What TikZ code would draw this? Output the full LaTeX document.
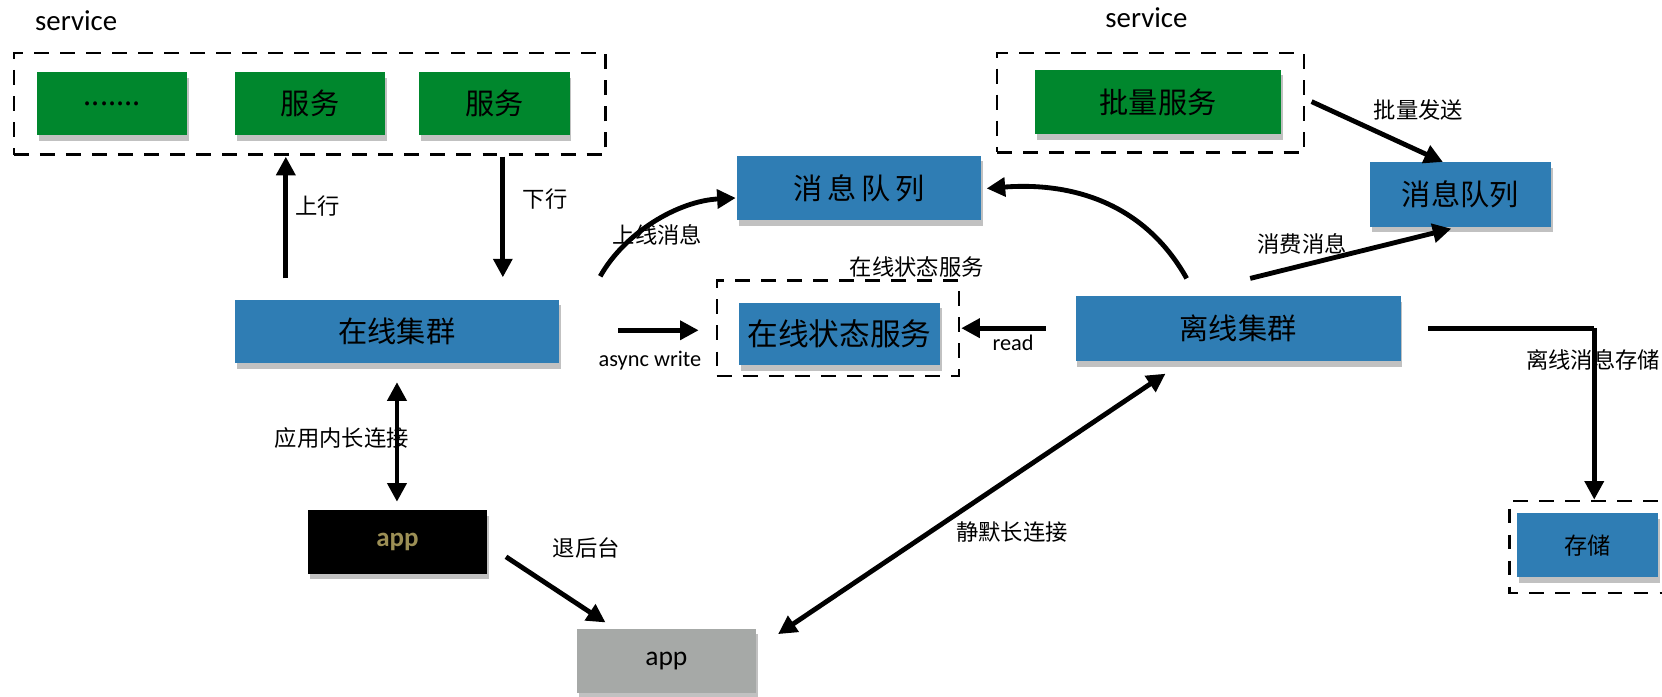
\documentclass[tikz,border=0pt]{standalone}
\usepackage{fontspec}
\setmainfont{Carlito}
\newfontfamily\cjk{Noto Sans CJK SC}
\usetikzlibrary{arrows.meta,shadows,calc}
\definecolor{boxgreen}{RGB}{0,135,45}
\definecolor{boxblue}{RGB}{47,125,180}
\definecolor{boxgray}{RGB}{166,169,167}
\definecolor{appolive}{RGB}{156,143,85}
\tikzset{
  x=0.02cm, y=-0.02cm,
  shade/.style={drop shadow={shadow xshift=1pt, shadow yshift=-3pt, opacity=0.35, fill=black!70}},
  gbox/.style={rectangle, fill=boxgreen, inner sep=0pt, shade, font=\cjk\fontsize{15.7}{18}\selectfont},
  bbox/.style={rectangle, fill=boxblue, inner sep=0pt, shade, font=\cjk\fontsize{15.7}{18}\selectfont},
  dbox/.style={rectangle, draw=black, line width=1.2pt, dash pattern=on 8pt off 6pt, inner sep=0pt},
  lbl/.style={font=\cjk\fontsize{12}{14}\selectfont, inner sep=1pt},
  elbl/.style={font=\fontsize{12}{14}\selectfont, inner sep=1pt},
  conn/.style={line width=2.6pt, -{Triangle[length=10pt,width=10pt]}},
  dconn/.style={line width=2.6pt, {Triangle[length=10pt,width=10pt]}-{Triangle[length=10pt,width=10pt]}},
}
\begin{document}
\begin{tikzpicture}
\useasboundingbox (0,0) rectangle (1570,658.4);
\clip (0,0) rectangle (1570,658.4);

% ---- top-left service group
\node[elbl, font=\fontsize{15.5}{18}\selectfont] (svclabel1) at (72,20) {service};
\node[dbox, minimum width=11.18cm, minimum height=1.92cm] (svcgroup) at (292.5,98) {};
\node[gbox, minimum width=2.84cm, minimum height=1.2cm] (dots) at (106,98) {.......};
\node[gbox, minimum width=2.84cm, minimum height=1.2cm] (svc1) at (293,98) {服务};
\node[gbox, minimum width=2.84cm, minimum height=1.2cm] (svc2) at (467,98) {服务};

% ---- online cluster
\node[bbox, minimum width=6.12cm, minimum height=1.2cm] (online) at (375,313) {在线集群};
\node[rectangle, fill=black, inner sep=0pt, shade, minimum width=3.38cm, minimum height=1.2cm,
      font=\bfseries\fontsize{14.5}{17}\selectfont, text=appolive] (appfg) at (375.5,512) {app};
\node[rectangle, fill=boxgray, inner sep=0pt, shade, minimum width=3.38cm, minimum height=1.22cm,
      font=\fontsize{14.8}{17}\selectfont] (appbg) at (629.5,624.5) {app};

% ---- middle
\node[bbox, minimum width=4.62cm, minimum height=1.22cm] (mqmid) at (811.5,177.5) {消\,息\,队\,列};
\node[dbox, minimum width=4.58cm, minimum height=1.8cm] (statusgroup) at (791.5,310) {};
\node[lbl] (statuslabel) at (866,252) {在线状态服务};
\node[bbox, minimum width=3.8cm, minimum height=1.18cm, font=\cjk\fontsize{16.5}{19}\selectfont] (status) at (793,315.5) {在线状态服务};

% ---- right
\node[elbl, font=\fontsize{15.5}{18}\selectfont] (svclabel2) at (1083,17) {service};
\node[dbox, minimum width=5.8cm, minimum height=1.88cm] (batchgroup) at (1087,97) {};
\node[gbox, minimum width=4.64cm, minimum height=1.22cm] (batch) at (1094,96.5) {批量服务};
\node[bbox, minimum width=3.42cm, minimum height=1.22cm] (mqright) at (1379.5,183.5) {消息队列};
\node[bbox, minimum width=6.14cm, minimum height=1.22cm] (offline) at (1169.5,310.5) {离线集群};
\draw[line width=1.2pt, dash pattern=on 8pt off 6pt] (1640,473) -- (1426,473) -- (1426,560) -- (1640,560);
\coordinate (storegroup) at (1426,473);
\node[bbox, minimum width=2.66cm, minimum height=1.2cm, font=\cjk\fontsize{12.5}{15}\selectfont] (store) at (1499.5,515) {存储};

% ---- connector end points
\coordinate (upS) at (270,263);   \coordinate (upE) at (270,148);
\coordinate (downS) at (475,148); \coordinate (downE) at (475,262);
\coordinate (longS) at (375,361); \coordinate (longE) at (375,474);
\coordinate (bgS) at (478,526);   \coordinate (bgE) at (572,588);
\coordinate (silS) at (735,599);  \coordinate (silE) at (1101,353);
\coordinate (onS) at (567,261);   \coordinate (onE) at (695,187);
\coordinate (awS) at (584,312);   \coordinate (awE) at (660,312);
\coordinate (rdS) at (988,310);   \coordinate (rdE) at (908,310);
\coordinate (offS) at (1121,263); \coordinate (offE) at (932,178);
\coordinate (bsS) at (1239,96);   \coordinate (bsE) at (1363,153);
\coordinate (csS) at (1181,263);  \coordinate (csE) at (1371,216);
\coordinate (stS) at (1349,310);  \coordinate (stC) at (1506,310); \coordinate (stE) at (1506,472);

% ---- connectors
\draw[conn] (upS) -- (upE);
\node[lbl] (uplbl) at (300,195) {上行};
\draw[conn] (downS) -- (downE);
\node[lbl] (downlbl) at (515,188) {下行};
\draw[dconn] (longS) -- (longE);
\node[lbl] (longlbl) at (323,414) {应用内长连接};
\draw[conn] (bgS) -- (bgE);
\node[lbl] (bglbl) at (554,518) {退后台};
\draw[dconn] (silS) -- (silE);
\node[lbl] (sillbl) at (956,503) {静默长连接};
\node[lbl] (onlbl) at (621,222) {上线消息};
\draw[conn] (onS) .. controls (590,220) and (640,190) .. (onE);
\draw[conn] (awS) -- (awE);
\node[elbl] (awlbl) at (614,341) {async write};
\draw[conn] (rdS) -- (rdE);
\node[elbl] (rdlbl) at (957,324) {read};
\draw[conn] (offS) .. controls (1080,190) and (1010,172) .. (offE);
\draw[conn] (bsS) -- (bsE);
\node[lbl] (bslbl) at (1340,104) {批量发送};
\draw[conn] (csS) -- (csE);
\node[lbl] (cslbl) at (1230,230) {消费消息};
\draw[line width=2.6pt] (stS) -- (stC);
\draw[conn] (stC) -- (stE);
\node[lbl] (stlbl) at (1505,340) {离线消息存储};
\end{tikzpicture}
\end{document}
